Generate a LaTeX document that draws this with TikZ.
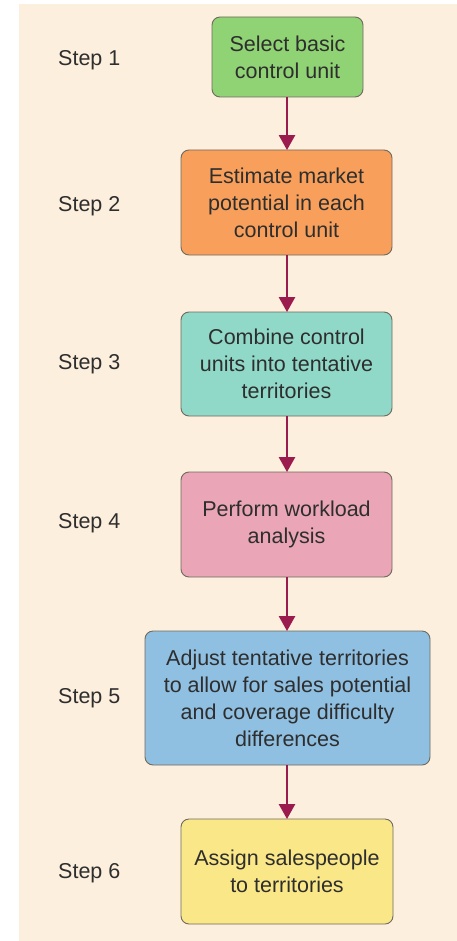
\documentclass[tikz,border=0pt]{standalone}
\usepackage{fontspec}
\setmainfont{Liberation Sans}
\usetikzlibrary{arrows.meta}
\definecolor{bgc}{HTML}{FDEFDD}
\definecolor{txt}{HTML}{2E2E2E}
\definecolor{edge}{HTML}{6E6A5E}
\definecolor{arr}{HTML}{9B1B4F}
\definecolor{cgreen}{HTML}{8FD374}
\definecolor{corange}{HTML}{F8A05B}
\definecolor{cteal}{HTML}{90D9C9}
\definecolor{cpink}{HTML}{EAA6B6}
\definecolor{cblue}{HTML}{8FBFE1}
\definecolor{cyellow}{HTML}{FAE788}
\tikzset{
  stepbox/.style={draw=edge, line width=0.9pt, rounded corners=8pt, align=center,
    text=txt, inner sep=0pt, font=\fontsize{21.5}{27}\selectfont},
  steplabel/.style={anchor=west, text=txt, inner sep=0pt, font=\fontsize{21.5}{25}\selectfont},
  flow/.style={draw=arr, line width=2.6pt, -{Triangle[length=15pt,width=16pt]}, shorten >=-0.5pt}
}
\begin{document}
\begin{tikzpicture}[x=1pt,y=-1pt]
\useasboundingbox (0,0) rectangle (457,941);
\fill[bgc] (19,4) rectangle (457,941);
\node[stepbox, fill=cgreen, minimum width=151pt, minimum height=80pt] (b1) at (287.5,57) {Select basic\\control unit};
\node[stepbox, fill=corange, minimum width=211pt, minimum height=105pt] (b2) at (286.5,202.5) {Estimate market\\potential in each\\control unit};
\node[stepbox, fill=cteal, minimum width=211pt, minimum height=104pt] (b3) at (286.5,364) {Combine control\\units into tentative\\territories};
\node[stepbox, fill=cpink, minimum width=211pt, minimum height=105pt] (b4) at (286.5,524.5) {Perform workload\\analysis};
\node[stepbox, fill=cblue, minimum width=285pt, minimum height=134pt] (b5) at (287.5,698) {Adjust tentative territories\\to allow for sales potential\\and coverage difficulty\\differences};
\node[stepbox, fill=cyellow, minimum width=212pt, minimum height=105pt] (b6) at (287,871.5) {Assign salespeople\\to territories};
\node[steplabel] (s1) at (58,60) {Step 1};
\node[steplabel] (s2) at (58,206) {Step 2};
\node[steplabel] (s3) at (58,364) {Step 3};
\node[steplabel] (s4) at (58,523) {Step 4};
\node[steplabel] (s5) at (58,698) {Step 5};
\node[steplabel] (s6) at (58,873) {Step 6};
\draw[flow] (b1.south -| 287,0) -- (b2.north -| 287,0);
\draw[flow] (b2.south -| 287,0) -- (b3.north -| 287,0);
\draw[flow] (b3.south -| 287,0) -- (b4.north -| 287,0);
\draw[flow] (b4.south -| 287,0) -- (b5.north -| 287,0);
\draw[flow] (b5.south -| 287,0) -- (b6.north -| 287,0);
\end{tikzpicture}
\end{document}
